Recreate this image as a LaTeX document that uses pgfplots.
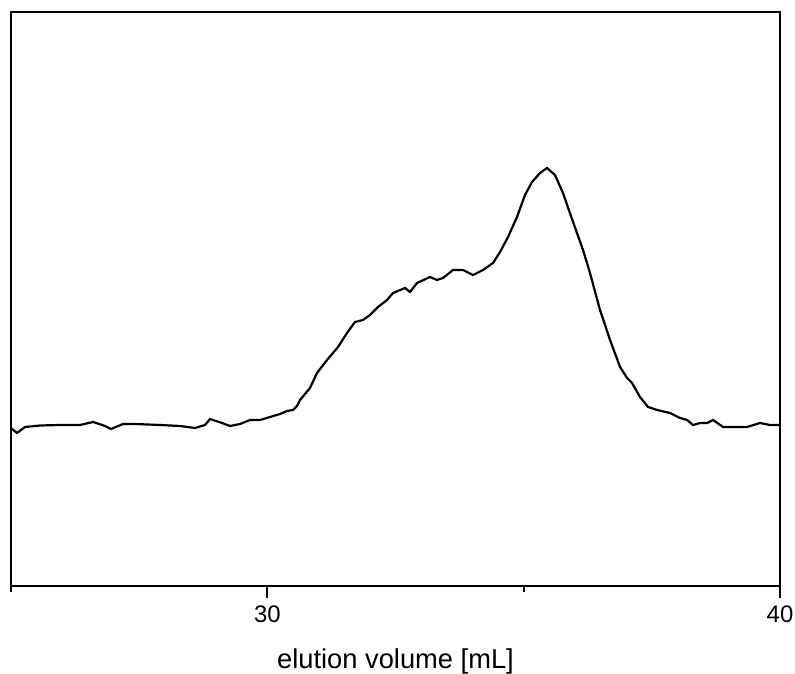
\documentclass[border=0pt]{standalone}
\usepackage{pgfplots}
\pgfplotsset{compat=1.18}
\usepackage{fontspec}
\setmainfont{Liberation Sans}
\begin{document}
\begin{tikzpicture}
\begin{axis}[
  at={(0,0)}, anchor=south west,
  width=384.5bp, height=287bp, scale only axis,
  xmin=25, xmax=40, ymin=0, ymax=574,
  xtick={30,40}, minor xtick={25,35},
  ytick=\empty,
  axis line style={line width=1.1bp},
  tick style={line width=1.1bp, black},
  xtick pos=bottom, tick align=outside,
  major tick length=6bp, minor tick length=3bp,
  /pgf/number format/assume math mode=true,
  ticklabel style={font=\fontsize{12}{14}\selectfont},
  xticklabel style={yshift=-0.5bp},
  xlabel={elution volume [mL]},
  xlabel style={font=\fontsize{13.7}{16}\selectfont, yshift=-6bp},
]
\addplot[black, line width=1.1bp] coordinates {
(25.000,158) (25.117,153) (25.273,159) (25.566,160.5) (25.956,161) (26.346,161)
(26.600,164) (26.834,160) (26.951,157) (27.185,162) (27.419,162) (27.906,161)
(28.297,160) (28.589,158) (28.784,161) (28.882,167) (29.116,163) (29.272,160)
(29.467,162) (29.662,166) (29.857,166) (30.052,169) (30.247,172) (30.384,175)
(30.501,176) (30.579,180) (30.637,186) (30.735,192) (30.832,198) (30.969,213)
(31.164,226) (31.379,239) (31.554,253) (31.710,264) (31.866,266) (32.003,271)
(32.159,279) (32.334,286) (32.451,293) (32.686,298) (32.783,294) (32.920,303)
(33.173,309) (33.310,306) (33.427,308) (33.622,316) (33.817,316) (34.012,311)
(34.207,316) (34.402,323) (34.539,334) (34.695,349) (34.870,369) (35.026,391)
(35.163,404) (35.319,413) (35.455,418) (35.611,411) (35.767,393) (35.963,364)
(36.158,336) (36.294,313) (36.489,276) (36.685,246) (36.880,219) (37.017,208)
(37.114,203) (37.270,189) (37.426,179) (37.602,176) (37.855,173) (38.050,168)
(38.187,166) (38.304,161) (38.440,163) (38.577,163) (38.694,166) (38.889,159)
(39.084,159) (39.357,159) (39.610,163) (39.805,161) (39.961,161) (40.000,161)
};
\end{axis}
\pgfresetboundingbox
\path[use as bounding box] (-5.5bp,-44bp) rectangle (392bp,293bp);
\end{tikzpicture}
\end{document}
